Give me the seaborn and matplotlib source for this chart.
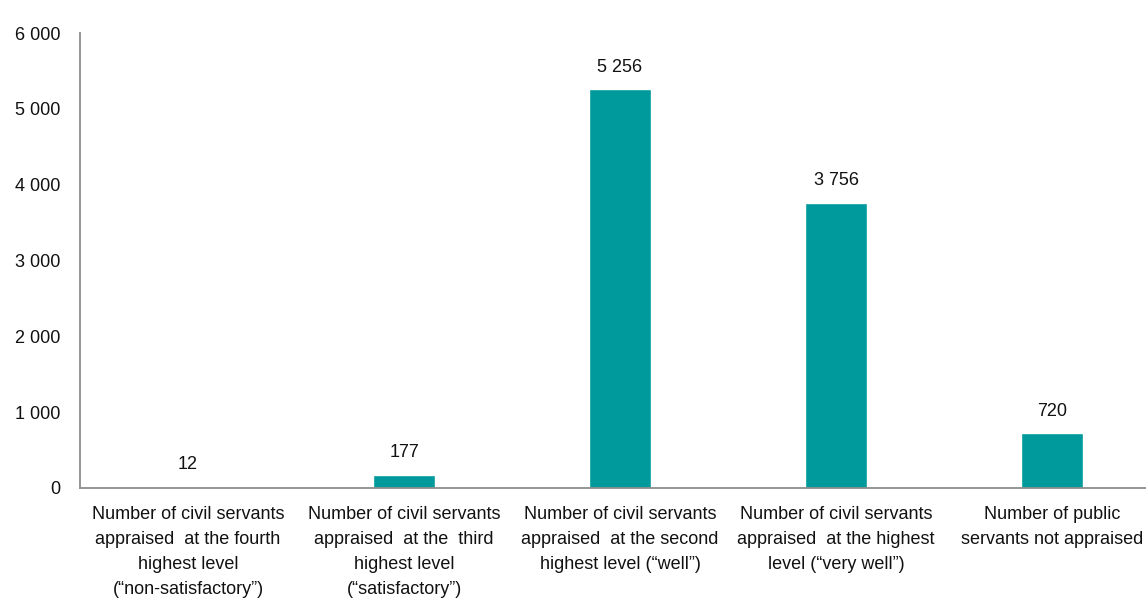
import matplotlib
matplotlib.use("Agg")
import matplotlib.pyplot as plt
import seaborn as sns
import pandas as pd
from matplotlib.ticker import FuncFormatter, FixedLocator

categories = [
    "Number of civil servants\nappraised  at the fourth\nhighest level\n(\u201cnon-satisfactory\u201d)",
    "Number of civil servants\nappraised  at the  third\nhighest level\n(\u201csatisfactory\u201d)",
    "Number of civil servants\nappraised  at the second\nhighest level (\u201cwell\u201d)",
    "Number of civil servants\nappraised  at the highest\nlevel (\u201cvery well\u201d)",
    "Number of public\nservants not appraised",
]
values = [12, 177, 5256, 3756, 720]
y_ticks = [0, 1000, 2000, 3000, 4000, 5000, 6000]

sns.set_theme(style="white")
plt.rcParams["font.family"] = ["Liberation Sans", "DejaVu Sans"]

df = pd.DataFrame({"category": categories, "value": values})

fig = plt.figure(figsize=(11.46, 6.02), dpi=100)
ax = fig.add_axes([80 / 1146, 114 / 602, 1080 / 1146, 455 / 602])

sns.barplot(data=df, x="category", y="value", color="#009a9c",
            width=0.29, saturation=1, ax=ax)

ax.set_ylim(0, 6000)
ax.yaxis.set_major_locator(FixedLocator(y_ticks))
ax.yaxis.set_major_formatter(FuncFormatter(lambda v, p: f"{int(v):,}".replace(",", " ")))
ax.set_xlabel("")
ax.set_ylabel("")

for s in ["top", "right"]:
    ax.spines[s].set_visible(False)
for s in ["left", "bottom"]:
    ax.spines[s].set_color("#8c8c8c")
    ax.spines[s].set_linewidth(1.3)

ax.tick_params(axis="y", length=0, pad=14, labelsize=13, labelcolor="#111111")
ax.tick_params(axis="x", length=0, pad=13, labelsize=13, labelcolor="#111111")
for lab in ax.get_xticklabels():
    lab.set_linespacing(1.62)
    lab.set_ha("center")

for i, v in enumerate(values):
    ax.annotate(f"{v:,}".replace(",", " "), xy=(i, v), xytext=(0, 10),
                textcoords="offset points", ha="center", va="bottom",
                fontsize=13, color="#111111")

fig.savefig("out.png", dpi=100)
